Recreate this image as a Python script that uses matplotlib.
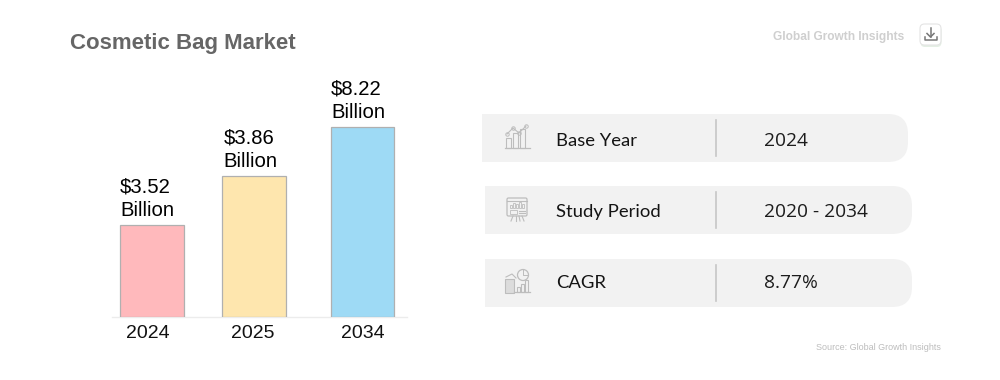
import matplotlib
matplotlib.use("Agg")
import matplotlib.pyplot as plt
from matplotlib.patches import Rectangle, PathPatch, FancyBboxPatch, Circle
from matplotlib.path import Path

years = ["2024", "2025", "2034"]
value_labels = ["$3.52\nBillion", "$3.86\nBillion", "$8.22\nBillion"]
# bars in the source are not to scale with the labels, heights read in px
bar_heights = [92, 141, 190]
bar_colors = ["#ffb9bc", "#fee6ae", "#9edaf5"]
bar_x = [152, 254, 362.5]
label_x = [120, 223.5, 331]

info_names = ["Base Year", "Study Period", "CAGR"]
info_values = ["2024", "2020 - 2034", "8.77%"]
panel_left = [482, 485, 485]
panel_right = [908, 912, 912]
panel_top = [114, 186, 259]
text_base = [146, 217, 288]
icon_y = [138, 209, 282]

SANS = "Liberation Sans"
ICON = "#bdbdbd"

fig = plt.figure(figsize=(10, 3.8), dpi=100)

# page layer, pixel coords
bg = fig.add_axes([0, 0, 1, 1])
bg.set_xlim(0, 1000)
bg.set_ylim(380, 0)
bg.axis("off")

# bar chart
ax = fig.add_axes([0, 63 / 380, 1, 317 / 380])
ax.set_xlim(0, 1000)
ax.set_ylim(0, 317)
ax.axis("off")
ax.patch.set_alpha(0)
ax.bar(bar_x, bar_heights, width=63.5, color=bar_colors, edgecolor="#b0b0b0", linewidth=0.9, zorder=3)
ax.plot([112, 407], [0, 0], color="#ececec", lw=1, zorder=2, clip_on=False)
for x, h, lab in zip(label_x, bar_heights, value_labels):
    ax.text(x, h + 5, lab, ha="left", va="bottom", fontsize=14.6, family=SANS,
            color="#000000", linespacing=1.3)
for x, y in zip([148, 253, 363], years):
    ax.text(x, -16.5, y, ha="center", va="center", fontsize=14, family=SANS,
            color="#111111", clip_on=False)


def rounded_panel(x0, x1, y0, y1, r=20):
    verts = [(x0, y0), (x1 - r, y0), (x1, y0), (x1, y0 + r), (x1, y1 - r), (x1, y1), (x1 - r, y1), (x0, y1), (x0, y0)]
    codes = [Path.MOVETO, Path.LINETO, Path.CURVE3, Path.CURVE3, Path.LINETO, Path.CURVE3, Path.CURVE3, Path.LINETO, Path.CLOSEPOLY]
    return PathPatch(Path(verts, codes), fc="#f2f2f2", ec="none")


def icon_chart(cx, cy):
    for dx, h in zip([-9, -2, 5], [10, 15, 19]):
        bg.add_patch(Rectangle((cx + dx - 2.5, cy + 10 - h), 5.5, h, fc="none", ec=ICON, lw=0.8))
    bg.plot([cx - 12, cx + 13], [cy + 10, cy + 10], color=ICON, lw=0.9)
    bg.plot([cx - 10, cx - 4, cx + 2, cx + 9], [cy - 4, cy - 10, cy - 5, cy - 12], color=ICON, lw=0.8,
            marker="o", ms=2.5, mfc="none", mew=0.7)


def icon_board(cx, cy):
    bg.add_patch(FancyBboxPatch((cx - 10, cy - 11), 20, 18, boxstyle="round,pad=0,rounding_size=1.5",
                                fc="none", ec=ICON, lw=0.9))
    bg.plot([cx - 10, cx + 10], [cy - 8, cy - 8], color=ICON, lw=0.8)
    for dx, h in zip([-6, -3, 0, 3, 6], [3, 5, 4, 6, 4]):
        bg.add_patch(Rectangle((cx + dx - 1, cy - 1 - h), 2, h, fc="none", ec=ICON, lw=0.6))
    bg.add_patch(Rectangle((cx - 7, cy + 1), 7, 3.5, fc="none", ec=ICON, lw=0.6))
    bg.plot([cx + 2, cx + 8], [cy + 2, cy + 2], color=ICON, lw=0.8)
    bg.plot([cx + 2, cx + 8], [cy + 4, cy + 4], color=ICON, lw=0.8)
    for dx0, dx1 in [(-4, -6), (-1, -1), (2, 3), (5, 7)]:
        bg.plot([cx + dx0, cx + dx1], [cy + 7, cy + 12], color=ICON, lw=0.8)


def icon_cagr(cx, cy):
    bg.add_patch(Rectangle((cx - 12, cy - 3), 9, 14, fc="#dcdcdc", ec=ICON, lw=0.8))
    bg.add_patch(Circle((cx + 6, cy - 7), 5.5, fc="none", ec=ICON, lw=0.9))
    bg.plot([cx + 6, cx + 6, cx + 11], [cy - 12, cy - 7, cy - 7], color=ICON, lw=0.7)
    for dx, h in zip([0, 4, 8], [5, 8, 12]):
        bg.add_patch(Rectangle((cx + dx, cy + 10 - h), 2.5, h, fc="none", ec=ICON, lw=0.8))
    bg.plot([cx - 3, cx + 13], [cy + 10, cy + 10], color=ICON, lw=0.9)
    bg.plot([cx - 11, cx - 5, cx - 1], [cy - 5, cy - 8, cy - 4], color=ICON, lw=0.8)


icons = [icon_chart, icon_board, icon_cagr]
for i in range(3):
    y0 = panel_top[i]
    bg.add_patch(rounded_panel(panel_left[i], panel_right[i], y0, y0 + 48))
    bg.plot([716, 716], [y0 + 6, y0 + 42], color="#c6c6c6", lw=1.2)
    icons[i](517, icon_y[i])
    bg.text(556, text_base[i], info_names[i], ha="left", va="baseline", fontsize=13.3, family="Lato",
            color="#141414")
    bg.text(764, text_base[i], info_values[i], ha="left", va="baseline", fontsize=13.8, family="Open Sans",
            color="#1c1c1c")

# title, logo, source
bg.text(70, 43, "Cosmetic Bag Market", ha="left", va="center", fontsize=16, fontweight="bold",
        family=SANS, color="#666666")
bg.text(773, 37, "Global Growth Insights", ha="left", va="center", fontsize=8.6, fontweight="bold",
        family=SANS, color="#cfcfcf")
bg.text(941, 348, "Source: Global Growth Insights", ha="right", va="center", fontsize=6.5, family=SANS,
        color="#bdbdbd")

# download button
bg.add_patch(FancyBboxPatch((920.5, 26), 21, 21, boxstyle="round,pad=0,rounding_size=4.5",
                            fc="#e4efe4", ec="none"))
bg.add_patch(FancyBboxPatch((920, 24), 21, 21, boxstyle="round,pad=0,rounding_size=4.5",
                            fc="white", ec="#e4e4e4", lw=0.8))
bg.plot([930.5, 930.5], [28, 37], color="#777777", lw=1.1)
bg.plot([927, 930.5, 934], [33.5, 37, 33.5], color="#777777", lw=1.1)
bg.plot([924.5, 924.5, 936.5, 936.5], [37, 40, 40, 37], color="#777777", lw=1.1)

fig.savefig("out.png", dpi=100)
